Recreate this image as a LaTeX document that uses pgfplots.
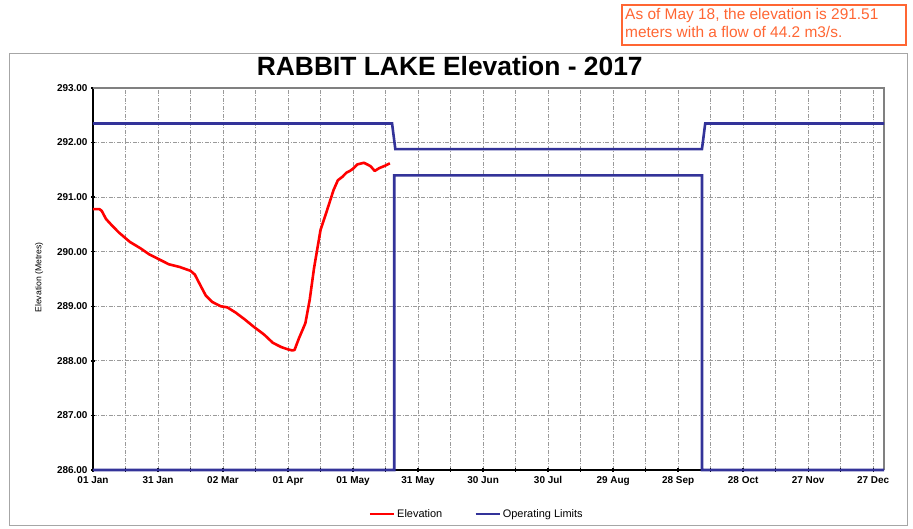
\documentclass[border=0pt]{standalone}
\usepackage{pgfplots}
\pgfplotsset{compat=1.18}
\usepackage{fontspec}
\setmainfont{Liberation Sans}
\definecolor{limblue}{HTML}{333399}
\definecolor{annor}{HTML}{FF6633}
\definecolor{gridgray}{HTML}{9A9A9A}
\begin{document}
\begin{tikzpicture}
\useasboundingbox (-93bp,-59bp) rectangle (820bp,470bp);
% outer frame
\draw[color=gray!70, line width=0.8bp] (-84bp,-55bp) rectangle (814bp,417bp);
\begin{axis}[
  at={(0,0)}, anchor=south west,
  scale only axis, width=791bp, height=382bp,
  xmin=0, xmax=365, ymin=286, ymax=293,
  xtick={0,30,...,360},
  xticklabels={01 Jan,31 Jan,02 Mar,01 Apr,01 May,31 May,30 Jun,30 Jul,29 Aug,28 Sep,28 Oct,27 Nov,27 Dec},
  minor xtick={15,45,...,345},
  ytick={286,287,...,293},
  /pgf/number format/assume math mode=true,
  yticklabel={\pgfmathprintnumber[fixed,fixed zerofill,precision=2]{\tick}},
  tick label style={font=\fontsize{10}{12}\selectfont\bfseries},
  xticklabel style={yshift=-1bp},
  grid=both,
  major grid style={gridgray, line width=0.9bp, dash pattern=on 4bp off 1.5bp on 1bp off 1.5bp},
  minor grid style={gridgray, line width=0.9bp, dash pattern=on 4bp off 1.5bp on 1bp off 1.5bp},
  axis line style={draw=none},
  tick style={black, line width=1.3bp},
  major tick length=4bp, minor tick length=4bp,
  tick align=center,
  xtick pos=bottom, ytick pos=left,
  title={RABBIT LAKE Elevation - 2017},
  title style={font=\fontsize{26.5}{28}\selectfont\bfseries, at={(rel axis cs:0.451,1.017)}, anchor=base, yshift=0pt, inner sep=0pt},
  ylabel={Elevation (Metres)},
  ylabel style={font=\fontsize{8.7}{10}\selectfont, at={(rel axis cs:-0.068,0.504)}, anchor=center},
  unbounded coords=jump,
  legend columns=2,
  legend style={draw=none, fill=none, font=\fontsize{11}{12}\selectfont,
    at={(rel axis cs:0.485,-0.115)}, anchor=center,
    /tikz/every even column/.append style={column sep=30bp}},
  legend image code/.code={\draw[#1] (0bp,0bp) -- (24bp,0bp);},
  clip=false,
]
\draw[black, line width=2.6bp] (rel axis cs:0,0) -- (rel axis cs:0,1);
\draw[black, line width=2bp] (rel axis cs:0,0) -- (rel axis cs:1,0);
\draw[gray, line width=2.6bp] (rel axis cs:0,1) -- (rel axis cs:1,1) -- (rel axis cs:1,0);
\addplot[red, line width=2.6bp, line join=round] coordinates {
(0,290.78) (3,290.78) (4,290.75) (6,290.6) (9,290.47) (12,290.35) (17,290.18)
(22,290.06) (26,289.95) (31,289.85) (35,289.77) (40,289.72) (45,289.65)
(47,289.58) (50,289.35) (52,289.2) (55,289.08) (59,289.0) (62,288.98)
(66,288.88) (70,288.76) (74,288.63) (79,288.48) (83,288.33) (87,288.25)
(90,288.21) (92,288.19) (93,288.20) (95,288.41) (98,288.69) (100,289.12)
(102,289.7) (105,290.4) (108,290.76) (111,291.13) (113,291.31) (115,291.37)
(117,291.45) (118.5,291.48) (120,291.52) (122,291.60) (125,291.63)
(128,291.57) (130,291.48) (132,291.53) (135,291.58) (137,291.62)
};
\addlegendentry{Elevation}
\addplot[limblue, line width=2.6bp] coordinates {
(0,292.35) (138,292.35) (139.5,291.88) (281,291.88) (282.5,292.35) (365,292.35)
(nan,nan)
(0,286) (139,286) (139,291.40) (281,291.40) (281,286) (365,286)
};
\addlegendentry{Operating Limits}
\end{axis}
% annotation box
\draw[annor, line width=1.5bp] (529bp,425bp) rectangle (813bp,465bp);
\node[anchor=north west, align=left, text=annor, inner sep=0pt,
  font=\fontsize{15.5}{18}\selectfont] at (532bp,462bp)
  {As of May 18, the elevation is 291.51\\meters with a flow of 44.2 m3/s.};
\end{tikzpicture}
\end{document}
